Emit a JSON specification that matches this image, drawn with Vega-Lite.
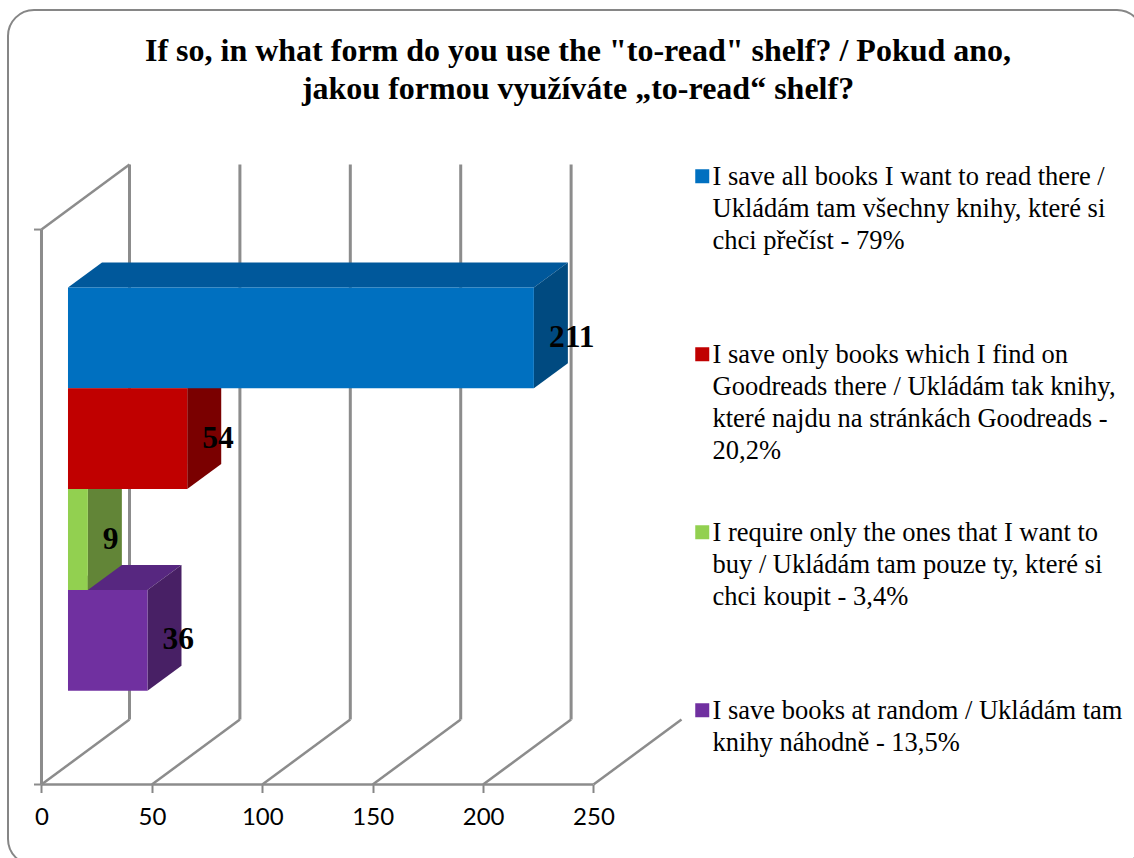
{
"$schema":"https://vega.github.io/schema/vega-lite/v6.json",
"width":1135,"height":855,
"autosize":{"type":"none"},
"padding":{"left":8,"top":10,"right":0,"bottom":0},
"background":"white",
"title":{"text":["If so, in what form do you use the \"to-read\" shelf? / Pokud ano,","jakou formou využíváte „to-read“ shelf?"],"font":"Liberation Serif","fontSize":32,"fontWeight":"bold","color":"black","lineHeight":38,"anchor":"start","align":"center","frame":"group","dx":570,"offset":-96},
"config":{"view":{"stroke":"#868686","strokeWidth":2,"cornerRadius":26}},
"datasets":{
"bars":[
{"series":"I save all books I want to read there /\nUkládám tam všechny knihy, které si\nchci přečíst - 79%","value":211},
{"series":"I save only books which I find on\nGoodreads there / Ukládám tak knihy,\nkteré najdu na stránkách Goodreads -\n20,2%","value":54},
{"series":"I require only the ones that I want to\nbuy / Ukládám tam pouze ty, které si\nchci koupit - 3,4%","value":9},
{"series":"I save books at random / Ukládám tam\nknihy náhodně - 13,5%","value":36}
],
"ticks":[{"tick":0},{"tick":50},{"tick":100},{"tick":150},{"tick":200},{"tick":250}]
},
"data":{"name":"bars"},
"transform":[],
"layer":[
{"data":{"name":"ticks"},"transform":[{"filter":"datum.tick<250"},{"calculate":"datum.tick+39.86","as":"back"}],
 "mark":{"type":"rule","color":"#8c8c8c","strokeWidth":3},
 "encoding":{"x":{"field":"back","type":"quantitative","axis":{"values":[0,50,100,150,200,250],"offset":-80.5,"domain":false,"grid":false,"title":null,"tickColor":"#868686","tickSize":8,"tickWidth":2,"labelFont":"Lato","labelFontSize":24,"labelColor":"black","labelPadding":13,"labelFlush":false},"scale":{"domain":[-15.17,498.87],"nice":false,"zero":false}},"y":{"datum":-0.298,"type":"quantitative","axis":null,"scale":{"domain":[-1.741,6.741],"nice":false,"zero":false}},"y2":{"datum":5.208}}},
{"data":{"name":"ticks"},"transform":[{"calculate":"datum.tick+39.86","as":"back"}],
 "mark":{"type":"rule","color":"#8c8c8c","strokeWidth":2.5},
 "encoding":{"x":{"field":"back","type":"quantitative"},"x2":{"field":"tick"},"y":{"datum":-0.298,"type":"quantitative"},"y2":{"datum":-0.9425}}},
{"data":{"values":[{}]},"mark":{"type":"rule","color":"#8c8c8c","strokeWidth":2.5},
 "encoding":{"x":{"datum":0,"type":"quantitative"},"x2":{"datum":250},"y":{"datum":-0.9425,"type":"quantitative"}}},
{"data":{"values":[{}]},"mark":{"type":"rule","color":"#8c8c8c","strokeWidth":3},
 "encoding":{"x":{"datum":0,"type":"quantitative"},"y":{"datum":-0.9425,"type":"quantitative"},"y2":{"datum":4.563}}},
{"data":{"values":[{}]},"mark":{"type":"rule","color":"#8c8c8c","strokeWidth":2.5},
 "encoding":{"x":{"datum":0,"type":"quantitative"},"x2":{"datum":39.86},"y":{"datum":4.563,"type":"quantitative"},"y2":{"datum":5.208}}},
{"data":{"values":[{}]},"mark":{"type":"rule","color":"#8c8c8c","strokeWidth":2},
 "encoding":{"x":{"datum":-3.4,"type":"quantitative"},"x2":{"datum":0},"y":{"datum":4.563,"type":"quantitative"}}},
{"data":{"values":[{}]},"mark":{"type":"rule","color":"#8c8c8c","strokeWidth":2},
 "encoding":{"x":{"datum":-3.4,"type":"quantitative"},"x2":{"datum":0},"y":{"datum":-0.9425,"type":"quantitative"}}},
{"transform":[
 {"window":[{"op":"row_number","as":"n"}]},
 {"calculate":"3.988-datum.n","as":"b"},
 {"calculate":"datum.value+12","as":"xf"},
 {"calculate":"[0,1,2,3]","as":"i"},
 {"calculate":"[12,datum.xf,datum.xf+15.4,27.4]","as":"xs"},
 {"calculate":"[datum.b+1,datum.b+1,datum.b+1.248,datum.b+1.248]","as":"ys"},
 {"flatten":["i","xs","ys"]}],
 "mark":{"type":"line","interpolate":"linear-closed","strokeWidth":0},
 "encoding":{"x":{"field":"xs","type":"quantitative"},"y":{"field":"ys","type":"quantitative"},"order":{"field":"i"},"detail":{"field":"series"},
  "fill":{"field":"series","type":"nominal","sort":null,"legend":null,"scale":{"range":["#00589b","#900000","#6f9c3d","#572780"]}}}},
{"transform":[
 {"window":[{"op":"row_number","as":"n"}]},
 {"calculate":"3.988-datum.n","as":"b"},
 {"calculate":"datum.value+12","as":"xf"},
 {"calculate":"[0,1,2,3]","as":"i"},
 {"calculate":"[datum.xf,datum.xf+15.4,datum.xf+15.4,datum.xf]","as":"xs"},
 {"calculate":"[datum.b+1,datum.b+1.248,datum.b+0.248,datum.b]","as":"ys"},
 {"flatten":["i","xs","ys"]}],
 "mark":{"type":"line","interpolate":"linear-closed","strokeWidth":0},
 "encoding":{"x":{"field":"xs","type":"quantitative"},"y":{"field":"ys","type":"quantitative"},"order":{"field":"i"},"detail":{"field":"series"},
  "fill":{"field":"series","type":"nominal","sort":null,"legend":null,"scale":{"range":["#004a80","#7a0000","#628537","#482065"]}}}},
{"transform":[
 {"window":[{"op":"row_number","as":"n"}]},
 {"calculate":"3.988-datum.n","as":"b"},
 {"calculate":"datum.b+1","as":"t"},
 {"calculate":"datum.value+12","as":"xf"},
 {"calculate":"12","as":"x0"}],
 "mark":{"type":"rect"},
 "encoding":{"x":{"field":"x0","type":"quantitative"},"x2":{"field":"xf"},"y":{"field":"b","type":"quantitative"},"y2":{"field":"t"},
  "fill":{"field":"series","type":"nominal","sort":null,"title":null,"scale":{"range":["#0070c0","#c00000","#92d050","#7030a0"]},
   "legend":{"orient":"none","legendX":681,"legendY":153,"gridAlign":"all","symbolType":"square","symbolSize":196,"symbolStrokeWidth":0,"labelFont":"Liberation Serif","labelFontSize":26.5,"labelColor":"black","labelLimit":500,"labelBaseline":"top","labelOffset":0,"rowPadding":54,"labelExpr":"split(datum.label,'\\n')","encode":{"labels":{"update":{"lineHeight":{"value":32},"dy":{"value":-12},"dx":{"value":-3}}}}}}}},
{"transform":[
 {"window":[{"op":"row_number","as":"n"}]},
 {"calculate":"4.488-datum.n","as":"m"},
 {"calculate":"datum.value+12","as":"xf"}],
 "mark":{"type":"text","font":"Liberation Serif","fontSize":31.5,"fontWeight":"bold","color":"black","align":"left","baseline":"middle","dx":15},
 "encoding":{"x":{"field":"xf","type":"quantitative"},"y":{"field":"m","type":"quantitative"},"text":{"field":"value","type":"quantitative"}}}
],
"resolve":{"scale":{"fill":"independent"}}
}
